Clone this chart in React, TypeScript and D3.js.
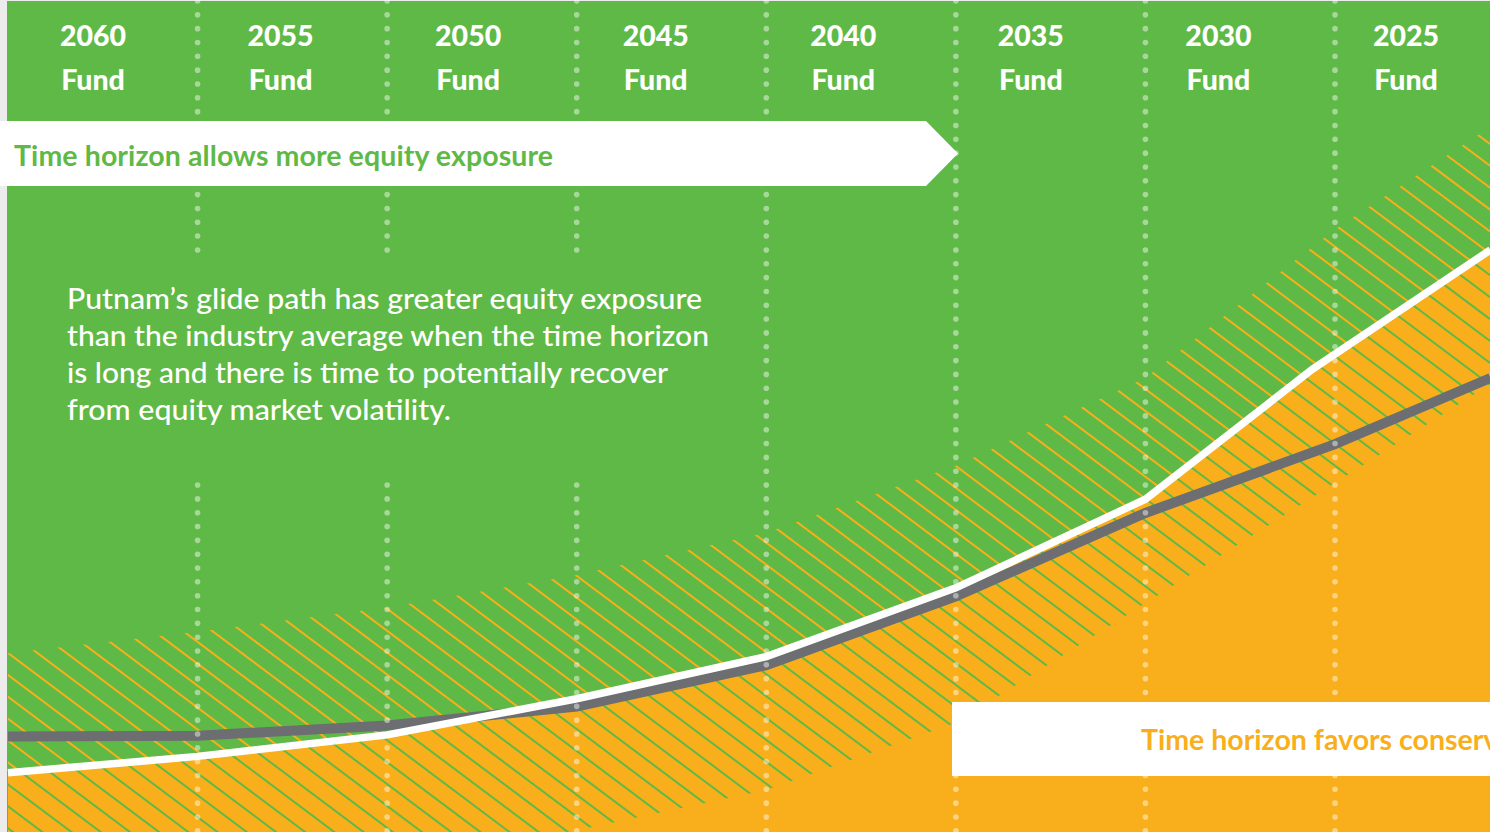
import React from "react";
import * as d3 from "d3";

// glide path comparison panel
const W = 1490;
const H = 832;

const GREEN = "#5fb946";
const ORANGE = "#f9af1b";
const GRAY = "#6d6e71";

const fundLabels = ["2060", "2055", "2050", "2045", "2040", "2035", "2030", "2025"];
const dividerYears = [2057.5, 2052.5, 2047.5, 2042.5, 2037.5, 2032.5, 2027.5];
// these dividers stop behind the paragraph
const gappedDividers = [2057.5, 2052.5, 2047.5];

const pathYears = [2062.5, 2057.5, 2052.5, 2047.5, 2042.5, 2037.5, 2032.5, 2027.5, 2023.4];
const putnamYears = [2062.5, 2057.5, 2052.5, 2047.5, 2042.5, 2037.5, 2032.5, 2028.1, 2023.4];

// equity exposure, %
const putnamEquity = [85.2, 83.3, 80.8, 76.6, 71.7, 63.7, 53.4, 38.3, 24.4];
const industryEquity = [81.0, 80.9, 79.7, 77.5, 72.7, 64.7, 55.0, 47.0, 39.3];
const rangeTop = [71.3, 68.8, 66.0, 62.2, 57.3, 49.5, 39.3, 22.0, 10.1];
const rangeBottom = [100, 98.3, 95.6, 91.9, 87.2, 79.4, 65.5, 51.5, 40.0];

const bodyLines = [
  "Putnam\u2019s glide path has greater equity exposure",
  "than the industry average when the time horizon",
  "is long and there is time to potentially recover",
  "from equity market volatility.",
];
const bodyWidths = [635, 642, 601, 384];

const FONT = "Lato, 'Open Sans', sans-serif";

export default function App() {
  const x = d3.scaleLinear().domain([2062.5, 2027.5]).range([8, 1335]);
  const y = d3.scaleLinear().domain([0, 100]).range([40, 900]);
  const head = d3.scalePoint<string>().domain(fundLabels).range([93, 1406]);

  const band = d3
    .area<number>()
    .x((d) => x(d))
    .y0((d, i) => y(rangeBottom[i]))
    .y1((d, i) => y(rangeTop[i]))(pathYears);

  const above = d3
    .area<number>()
    .x((d) => x(d))
    .y0(-10)
    .y1((d, i) => y(putnamEquity[i]))(putnamYears);

  const below = d3
    .area<number>()
    .x((d) => x(d))
    .y0(H + 10)
    .y1((d, i) => y(putnamEquity[i]))(putnamYears);

  const putnamLine = d3
    .line<number>()
    .x((d) => x(d))
    .y((d, i) => y(putnamEquity[i]))(putnamYears);
  const industryLine = d3
    .line<number>()
    .x((d) => x(d))
    .y((d, i) => y(industryEquity[i]))(pathYears);

  // hatch lines, slope 0.75, vertical step 21.9
  const hatch = d3.range(-82, 10).map((k) => 647 + k * 21.9);

  const dots = (yr: number) =>
    d3
      .range(0, 61)
      .filter((k) => !(gappedDividers.includes(yr) && k > 18 && k < 35))
      .map((k) => 1 + k * 13.83)
      .filter((v) => v < H + 3);

  return (
    <svg
      width={W}
      height={H}
      style={{ position: "fixed", left: 0, top: 0, display: "block" }}
    >
      <defs>
        <clipPath id="band">
          <path d={band || ""} />
        </clipPath>
        <clipPath id="above">
          <path d={above || ""} />
        </clipPath>
        <clipPath id="below">
          <path d={below || ""} />
        </clipPath>
      </defs>
      <rect width={W} height={H} fill="#ececec" />
      <rect x={7} y={1} width={W - 7} height={H} fill={GREEN} />
      <path d={below || ""} fill={ORANGE} />

      <g clipPath="url(#band)">
        <g clipPath="url(#above)">
          {hatch.map((c, i) => (
            <line key={i} x1={0} y1={c} x2={W} y2={c + 0.75 * W} stroke={ORANGE} strokeWidth={2} />
          ))}
        </g>
        <g clipPath="url(#below)">
          {hatch.map((c, i) => (
            <line key={i} x1={0} y1={c} x2={W} y2={c + 0.75 * W} stroke={GREEN} strokeWidth={2} />
          ))}
        </g>
      </g>

      <path d={industryLine || ""} fill="none" stroke={GRAY} strokeWidth={10} />
      <path d={putnamLine || ""} fill="none" stroke="#fff" strokeWidth={7.5} />

      {dividerYears.map((yr) => (
        <g key={yr}>
          {dots(yr).map((cy) => (
            <circle key={cy} cx={x(yr)} cy={cy} r={2.8} fill="#fff" fillOpacity={0.45} />
          ))}
        </g>
      ))}

      {fundLabels.map((f) => (
        <text
          key={f}
          x={head(f)}
          textAnchor="middle"
          fill="#fff"
          fontFamily={FONT}
          fontWeight={900}
          fontSize={28.5}
        >
          <tspan x={head(f)} y={46}>{f}</tspan>
          <tspan x={head(f)} y={90}>Fund</tspan>
        </text>
      ))}

      <path d="M0,121H926L958,153.5L926,186H0Z" fill="#fff" />
      <text
        x={14}
        y={165.5}
        fill={GREEN}
        fontFamily={FONT}
        fontWeight={700}
        fontSize={28.5}
        textLength={539}
      >
        Time horizon allows more equity exposure
      </text>

      {bodyLines.map((t, i) => (
        <text
          key={i}
          x={67}
          y={309 + i * 37}
          fill="#fff"
          fontFamily={FONT}
          fontWeight={500}
          fontSize={29}
          textLength={bodyWidths[i]}
          lengthAdjust="spacingAndGlyphs"
        >
          {t}
        </text>
      ))}

      <rect x={952} y={702} width={W - 952} height={74} fill="#fff" />
      <text x={1141} y={750} fill={ORANGE} fontFamily={FONT} fontWeight={700} fontSize={28.5}>
        Time horizon favors conservative investments
      </text>
    </svg>
  );
}
